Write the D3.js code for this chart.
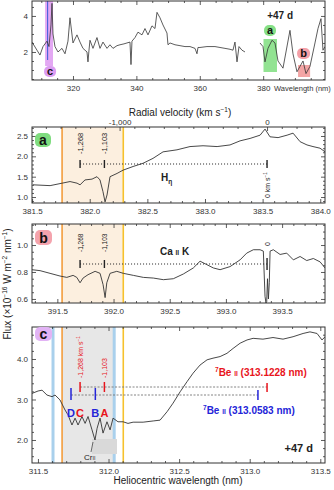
<!DOCTYPE html>
<html><head><meta charset="utf-8">
<script src="https://cdn.jsdelivr.net/npm/d3@7"></script>
<style>body{margin:0;background:#fff}svg{display:block}</style>
</head><body><svg id="chart" width="334" height="490"></svg>
<script>
const C_KMS = 299792.458;

// ---- overview spectrum (top panel) ----
const overviewWl1 = [307.07,308.64,309.59,310.54,311.80,312.43,313.06,313.38,313.69,314.32,315.27,316.53,317.48,318.42,319.05,320.00,321.26,322.21,323.15,324.42,324.73,325.05,325.36,326.31,327.57,328.52,329.46,330.73,331.67,332.62,333.88,334.83,336.09,337.03,337.98,338.30,338.61,339.56,340.50,341.77,342.71,343.66,344.92,345.87,346.50,347.44,348.39,349.65,349.97,350.60,352.18,353.75,355.33,356.91,358.49,359.12,359.43,360.06,362.27,364.79,366.37,367.95,369.53,370.47,371.10,371.74,372.37,373.31,374.26];
const overviewFlux1 = [2.55,2.1,1.83,2.3,2.6,2.3,3.5,4.7,3.0,2.3,2.0,2.2,1.9,2.6,3.9,2.5,2.95,2.55,2.2,2.0,1.45,2.1,2.65,2.2,2.8,2.2,2.55,2.2,2.4,2.2,2.35,2.4,2.45,2.5,2.55,1.3,2.6,2.8,3.1,2.95,3.3,2.95,3.45,3.3,4.2,3.9,3.5,3.05,2.4,2.5,2.4,2.35,2.3,2.3,2.2,1.9,2.25,2.25,2.3,2.3,2.25,2.2,2.15,2.1,2.55,1.45,2.3,2.1,2.0];
const overviewWl2 = [378.99,379.94,380.57,381.51,382.78,383.72,384.67,386.25,388.45,389.40,390.66,391.61,392.56,393.50,394.76,396.34,397.29,398.23,398.86,399.50];
const overviewFlux2 = [2.5,2.3,1.45,2.2,2.65,2.5,1.5,1.1,3.2,1.9,0.9,1.2,1.5,0.8,1.2,2.5,3.3,3.85,2.1,2.3];
const overviewXTicks = [320,340,360,380];
const overviewYTicks = [2,4];
const overviewHighlightA = [380.1, 384.35];
const overviewHighlightB = [391.0, 394.8];
const overviewHighlightC = [311.2, 313.7];
const epochLabel = "+47 d";

// ---- common velocity frame ----
const restHeta = 383.5384;
const restCaK = 393.366;
const restBe = [313.0583, 313.1228];
const velocityRange = [-1594, 393];
const velocityTicks = [-1000, 0];
const markerVelocities = [-1268, -1103];
const markerLabels = ["-1,268", "-1,103"];
const bandVelocities = [-1390, -975];

// ---- panel a : H eta ----
const aWl = [381.508,381.656,381.760,381.829,381.890,381.916,381.959,382.020,382.063,382.089,382.115,382.133,382.150,382.176,382.237,382.289,382.376,382.463,382.549,382.636,382.757,382.870,382.983,383.105,383.217,383.304,383.391,383.478,383.521,383.564,383.634,383.712,383.764,383.825,383.885,383.937,383.998,384.042];
const aFlux = [1.30,1.28,1.34,1.38,1.34,1.30,1.42,1.44,1.50,1.42,1.13,0.88,1.05,1.50,1.58,1.66,1.75,1.83,1.95,2.11,2.16,2.24,2.26,2.24,2.28,2.38,2.44,2.52,2.67,2.48,2.46,2.52,2.57,2.36,2.28,2.24,2.20,2.11];
const aXTicks = [381.5,382.0,382.5,383.0,383.5,384.0];
const aYTicks = [1.0,1.5,2.0,2.5];

// ---- panel b : Ca II K ----
const bWl = [391.273,391.346,391.435,391.524,391.584,391.640,391.673,391.702,391.729,391.773,391.836,391.880,391.907,391.925,391.940,391.969,392.029,392.087,392.176,392.265,392.354,392.443,392.532,392.621,392.710,392.770,392.829,392.888,392.948,393.037,393.126,393.185,393.244,393.304,393.333,393.348,393.356,393.363,393.370,393.378,393.386,393.393,393.422,393.482,393.541,393.600,393.660,393.719,393.778,393.838,393.882];
const bFlux = [0.817,0.81,0.79,0.77,0.76,0.775,0.76,0.72,0.755,0.78,0.805,0.79,0.706,0.61,0.72,0.79,0.805,0.79,0.775,0.76,0.755,0.743,0.75,0.785,0.83,0.88,0.855,0.83,0.817,0.84,0.89,0.94,0.965,0.965,0.955,0.62,0.57,0.58,0.75,0.60,0.72,0.955,0.965,0.93,0.94,0.89,0.915,0.885,0.90,0.875,0.83];
const bXTicks = [391.5,392.0,392.5,393.0,393.5];
const bYTicks = [0.6,0.8,1.0];

// ---- panel c : 7Be II ----
const cWl = [311.458,311.501,311.529,311.564,311.600,311.621,311.656,311.692,311.713,311.741,311.763,311.784,311.812,311.834,311.855,311.883,311.904,311.919,311.940,311.961,311.989,312.011,312.032,312.067,312.103,312.138,312.174,312.245,312.316,312.365,312.415,312.457,312.507,312.556,312.599,312.648,312.698,312.740,312.790,312.839,312.882,312.932,312.981,313.024,313.094,313.165,313.236,313.307,313.378,313.427,313.477,313.512,313.534];
const cFlux = [3.15,3.21,3.23,3.11,3.07,3.11,2.99,2.74,2.62,2.37,2.54,2.37,2.58,2.41,2.58,2.25,2.00,2.29,2.54,2.17,2.45,2.25,2.54,2.45,2.45,2.41,2.44,2.44,2.47,2.49,2.70,2.91,3.19,3.44,3.65,3.85,3.98,4.02,4.06,4.14,4.26,4.39,4.47,4.51,4.49,4.53,4.49,4.55,4.63,4.67,4.63,4.47,4.55];
const cXTicks = [311.5,312.0,312.5,313.0,313.5];
const cYTicks = [2.0,3.0,4.0];
const cMarkerLetters = [["D","C"],["B","A"]]; // [velocity index][blue, red]

// ================== drawing ==================
const FONT = "'Liberation Sans', Arial, Helvetica, sans-serif";
const svg = d3.select("#chart").attr("font-family", FONT);
const L = 32, R = 325;
const RED = "#e8141c", BLUE = "#2424d8", INK = "#222";
const ORANGE = "#f39c3c", GOLD = "#f6c12c", LBLUE = "#a9d0ec";

const vScale = d3.scaleLinear().domain(velocityRange).range([L, R]);
const wlFromV = (rest, v) => rest * (1 + v / C_KMS);
const wlScale = rest => d3.scaleLinear().domain(velocityRange.map(v => wlFromV(rest, v))).range([L, R]);

function minorTicks(domain, step, majors) {
  const out = [];
  const lo = Math.min(...domain), hi = Math.max(...domain);
  const s = Math.ceil(lo / step - 1e-9), e = Math.floor(hi / step + 1e-9);
  for (let i = s; i <= e; i++) {
    const v = +(i * step).toFixed(6);
    if (!majors.some(m => Math.abs(m - v) < step / 10)) out.push(v);
  }
  return out;
}

let clipId = 0;
function panel(top, bottom, x, y, o) {
  const g = svg.append("g");
  const id = "clip" + (clipId++);
  g.append("clipPath").attr("id", id).append("rect").attr("x", L).attr("y", top).attr("width", R - L).attr("height", bottom - top);
  const under = g.append("g").attr("clip-path", `url(#${id})`);
  const plot = g.append("g").attr("clip-path", `url(#${id})`);
  const axes = g.append("g");
  const ax = (axis, tr) => {
    const a = axes.append("g").attr("transform", tr).call(axis);
    a.select(".domain").remove();
    a.selectAll("line").attr("stroke", "#333").attr("stroke-width", 0.8);
    a.selectAll("text").attr("font-family", FONT).attr("font-size", 8).attr("fill", "#333");
    return a;
  };
  const xMin = minorTicks(x.domain(), o.xMinor, o.xTicks);
  const yMin = minorTicks(y.domain(), o.yMinor, o.yTicks);
  ax(d3.axisBottom(x).tickValues(o.xTicks).tickFormat(o.xFmt).tickSizeInner(-4).tickSizeOuter(0).tickPadding(5), `translate(0,${bottom})`);
  ax(d3.axisBottom(x).tickValues(xMin).tickFormat("").tickSizeInner(-2).tickSizeOuter(0), `translate(0,${bottom})`);
  if (!o.noTop) {
    ax(d3.axisTop(x).tickValues(o.xTicks).tickFormat("").tickSizeInner(-4).tickSizeOuter(0), `translate(0,${top})`);
    ax(d3.axisTop(x).tickValues(xMin).tickFormat("").tickSizeInner(-2).tickSizeOuter(0), `translate(0,${top})`);
  }
  ax(d3.axisLeft(y).tickValues(o.yTicks).tickFormat(o.yFmt).tickSizeInner(-4).tickSizeOuter(0).tickPadding(4), `translate(${L},0)`);
  ax(d3.axisLeft(y).tickValues(yMin).tickFormat("").tickSizeInner(-2).tickSizeOuter(0), `translate(${L},0)`);
  ax(d3.axisRight(y).tickValues(o.yTicks).tickFormat("").tickSizeInner(-4).tickSizeOuter(0), `translate(${R},0)`);
  ax(d3.axisRight(y).tickValues(yMin).tickFormat("").tickSizeInner(-2).tickSizeOuter(0), `translate(${R},0)`);
  axes.append("rect").attr("x", L).attr("y", top).attr("width", R - L).attr("height", bottom - top)
    .attr("fill", "none").attr("stroke", "#333").attr("stroke-width", 1);
  return { g, under, plot, axes };
}

function spectrum(layer, x, y, wl, flux, w) {
  const line = d3.line().x(d => x(d[0])).y(d => y(d[1]));
  layer.append("path").datum(wl.map((v, i) => [v, flux[i]]))
    .attr("d", line).attr("fill", "none").attr("stroke", "#333").attr("stroke-width", w || 0.9)
    .attr("stroke-linejoin", "round");
}

function rich(g, x, y, parts, o) {
  const fs = o.size || 10;
  const t = g.append("text").attr("x", x).attr("y", y).attr("font-size", fs)
    .attr("fill", o.color || INK).attr("text-anchor", o.anchor || "start");
  if (o.weight) t.attr("font-weight", o.weight);
  if (o.transform) t.attr("transform", o.transform);
  let shift = 0;
  parts.forEach(p => {
    const [s, kind] = Array.isArray(p) ? p : [p, null];
    const target = kind === "sup" ? -0.42 * fs : kind === "sub" ? 0.28 * fs : 0;
    const ts = t.append("tspan").attr("dy", target - shift).text(s);
    if (kind) ts.attr("font-size", fs * 0.65);
    shift = target;
  });
  return t;
}

function bubble(g, x0, y0, w, h, fill, letter, fs) {
  g.append("rect").attr("x", x0).attr("y", y0).attr("width", w).attr("height", h).attr("rx", 5)
    .attr("fill", fill);
  g.append("text").attr("x", x0 + w / 2).attr("y", y0 + h / 2).attr("dy", "0.36em")
    .attr("text-anchor", "middle").attr("font-weight", "bold").attr("font-size", fs || 14).attr("fill", "#111").text(letter);
}

function vText(g, x, y, str, size, color) {
  g.append("text").attr("transform", `translate(${x},${y}) rotate(-90)`)
    .attr("dominant-baseline", "central").attr("font-size", size).attr("fill", color).text(str);
}

// ---------- overview ----------
{
  const top = 1, bottom = 80;
  const x = d3.scaleLinear().domain([307.07, 399.5]).range([L, R]);
  const y = d3.scaleLinear().domain([0.444, 4.83]).range([bottom, top]);
  const p = panel(top, bottom, x, y, { xTicks: overviewXTicks, xMinor: 5, xFmt: d3.format("d"),
    yTicks: overviewYTicks, yMinor: 0.5, yFmt: d3.format("d") });
  const hl = (r, y0, y1, fill, op) => p.under.append("rect").attr("x", x(r[0])).attr("width", x(r[1]) - x(r[0]))
    .attr("y", y0).attr("height", y1 - y0).attr("fill", fill).attr("opacity", op);
  hl(overviewHighlightC, top, 66, "#d98bef", 0.75);
  p.under.append("line").attr("x1", x(312.0)).attr("x2", x(312.0)).attr("y1", top).attr("y2", 60)
    .attr("stroke", "#3a5bd9").attr("stroke-width", 1);
  hl(overviewHighlightA, 39, 72, "#86e086", 0.9);
  hl(overviewHighlightB, 65, 77, "#f29a9a", 0.9);
  spectrum(p.plot, x, y, overviewWl1, overviewFlux1, 0.8);
  spectrum(p.plot, x, y, overviewWl2, overviewFlux2, 0.8);
  bubble(p.g, x(overviewHighlightC[0]) - 1, 66, 12, 11, "#dc9cf2", "c", 11);
  bubble(p.g, x(overviewHighlightA[0]) + 0.5, 25, 12, 11, "#86e086", "a", 11);
  bubble(p.g, x(overviewHighlightB[0]) - 1, 48, 13, 11, "#f4a0a8", "b", 11);
  p.g.append("text").attr("x", 293).attr("y", 19).attr("text-anchor", "end").attr("font-weight", "bold")
    .attr("font-size", 10).attr("fill", INK).text(epochLabel);
  p.g.append("text").attr("x", 274).attr("y", 91).attr("font-size", 7.5).attr("fill", "#333").text("Wavelength (nm)");
}

// ---------- panel a ----------
{
  const top = 127, bottom = 203;
  const x = wlScale(restHeta);
  const y = d3.scaleLinear().domain([0.853, 2.721]).range([bottom, top]);
  const p = panel(top, bottom, x, y, { xTicks: aXTicks, xMinor: 0.1, xFmt: d3.format(".1f"),
    yTicks: aYTicks, yMinor: 0.1, yFmt: d3.format(".1f"), noTop: true });
  const ax = (axis) => {
    const a = p.axes.append("g").attr("transform", `translate(0,${top})`).call(axis);
    a.select(".domain").remove();
    a.selectAll("line").attr("stroke", "#333").attr("stroke-width", 0.8);
    a.selectAll("text").attr("font-size", 8).attr("fill", "#333");
  };
  ax(d3.axisTop(vScale).tickValues(velocityTicks).tickFormat(d => d3.format(",")(d).replace("\u2212", "-")).tickSizeInner(-4).tickSizeOuter(0).tickPadding(2));
  ax(d3.axisTop(vScale).tickValues(minorTicks(velocityRange, 100, velocityTicks)).tickFormat("").tickSizeInner(-2).tickSizeOuter(0));
  rich(p.g, 180, 116, ["Radial velocity (km s", ["\u22121", "sup"], ")"], { size: 10, anchor: "middle" });

  const xb0 = vScale(bandVelocities[0]), xb1 = vScale(bandVelocities[1]);
  p.under.append("rect").attr("x", xb0).attr("y", top).attr("width", xb1 - xb0).attr("height", bottom - top).attr("fill", "#fcefdf");
  p.under.append("line").attr("x1", xb0).attr("x2", xb0).attr("y1", top).attr("y2", bottom).attr("stroke", ORANGE).attr("stroke-width", 1.6);
  p.under.append("line").attr("x1", xb1).attr("x2", xb1).attr("y1", top).attr("y2", bottom).attr("stroke", GOLD).attr("stroke-width", 1.6);
  spectrum(p.plot, x, y, aWl, aFlux);

  const ym = 164;
  p.g.append("line").attr("x1", vScale(markerVelocities[0])).attr("x2", vScale(0)).attr("y1", ym).attr("y2", ym)
    .attr("stroke", INK).attr("stroke-width", 1).attr("stroke-dasharray", "1,2");
  markerVelocities.forEach((v, i) => {
    p.g.append("line").attr("x1", vScale(v)).attr("x2", vScale(v)).attr("y1", ym - 4).attr("y2", ym + 4).attr("stroke", INK).attr("stroke-width", 1.4);
    vText(p.g, vScale(v), 154, markerLabels[i], 7.5, INK);
  });
  p.g.append("line").attr("x1", vScale(0)).attr("x2", vScale(0)).attr("y1", ym - 4).attr("y2", ym + 4).attr("stroke", INK).attr("stroke-width", 1.4);
  rich(p.g, 0, 0, ["0 km s", ["\u22121", "sup"]], { size: 7, transform: `translate(${vScale(0) + 2.5},198) rotate(-90)` });
  bubble(p.g, 35, 133, 16, 14, "#7fdc7f", "a");
  rich(p.g, 161, 181, ["H", ["\u03b7", "sub"]], { size: 10, weight: "bold" });
}

// ---------- panel b ----------
{
  const top = 224, bottom = 303;
  const x = wlScale(restCaK);
  const y = d3.scaleLinear().domain([0.57, 1.156]).range([bottom, top]);
  const p = panel(top, bottom, x, y, { xTicks: bXTicks, xMinor: 0.1, xFmt: d3.format(".1f"),
    yTicks: bYTicks, yMinor: 0.05, yFmt: d3.format(".1f") });
  const xb0 = vScale(bandVelocities[0]), xb1 = vScale(bandVelocities[1]);
  p.under.append("rect").attr("x", xb0).attr("y", top).attr("width", xb1 - xb0).attr("height", bottom - top).attr("fill", "#fcefdf");
  p.under.append("line").attr("x1", xb0).attr("x2", xb0).attr("y1", top).attr("y2", bottom).attr("stroke", ORANGE).attr("stroke-width", 1.6);
  p.under.append("line").attr("x1", xb1).attr("x2", xb1).attr("y1", top).attr("y2", bottom).attr("stroke", GOLD).attr("stroke-width", 1.6);
  spectrum(p.plot, x, y, bWl, bFlux);

  const ym = 264;
  p.g.append("line").attr("x1", vScale(markerVelocities[0])).attr("x2", vScale(0)).attr("y1", ym).attr("y2", ym)
    .attr("stroke", INK).attr("stroke-width", 1).attr("stroke-dasharray", "1,2");
  markerVelocities.forEach((v, i) => {
    p.g.append("line").attr("x1", vScale(v)).attr("x2", vScale(v)).attr("y1", ym - 4).attr("y2", ym + 4).attr("stroke", INK).attr("stroke-width", 1.4);
    vText(p.g, vScale(v), 252, markerLabels[i], 6.5, INK);
  });
  p.g.append("line").attr("x1", vScale(0)).attr("x2", vScale(0)).attr("y1", ym - 6).attr("y2", ym + 6).attr("stroke", INK).attr("stroke-width", 1.4);
  vText(p.g, vScale(0), 246, "0", 7, INK);
  bubble(p.g, 35, 230, 17, 15, "#f4a3ad", "b");
  rich(p.g, 160, 255, ["Ca ", ["II", "small"], " K"], { size: 10, weight: "bold" });
  rich(svg, 0, 0, ["Flux (\u00d710", ["\u221216", "sup"], " W m", ["\u22122", "sup"], " nm", ["\u22121", "sup"], ")"],
    { size: 10, anchor: "middle", transform: "translate(11,284) rotate(-90)" });
}

// ---------- panel c ----------
{
  const top = 327, bottom = 463;
  const x = wlScale(restBe[1]);
  const y = d3.scaleLinear().domain([1.432, 4.79]).range([bottom, top]);
  const p = panel(top, bottom, x, y, { xTicks: cXTicks, xMinor: 0.1, xFmt: d3.format(".1f"),
    yTicks: cYTicks, yMinor: 0.2, yFmt: d3.format(".1f") });
  const bandX = rest => bandVelocities.map(v => x(wlFromV(rest, v)));
  const [o0, o1] = bandX(restBe[1]);
  const [b0, b1] = bandX(restBe[0]);
  p.under.append("rect").attr("x", o0).attr("y", top).attr("width", b1 - o0).attr("height", bottom - top).attr("fill", "#e7e7e7");
  [b0, b1].forEach(xx => p.under.append("line").attr("x1", xx).attr("x2", xx).attr("y1", top).attr("y2", bottom).attr("stroke", LBLUE).attr("stroke-width", 3));
  p.under.append("line").attr("x1", o0).attr("x2", o0).attr("y1", top).attr("y2", bottom).attr("stroke", ORANGE).attr("stroke-width", 1.6);
  p.under.append("line").attr("x1", o1).attr("x2", o1).attr("y1", top).attr("y2", bottom).attr("stroke", GOLD).attr("stroke-width", 1.6);
  p.under.append("rect").attr("x", 92).attr("y", 439).attr("width", 25).attr("height", 15).attr("fill", "#d9d9d9");
  spectrum(p.plot, x, y, cWl, cFlux);
  p.g.append("line").attr("x1", 93).attr("x2", 91).attr("y1", 442).attr("y2", 452).attr("stroke", "#333").attr("stroke-width", 0.7);
  rich(p.g, 84, 460, ["Cr", ["II", "small"]], { size: 8 });

  const yRed = 387, yBlue = 395;
  const xs = restBe.map(r => markerVelocities.map(v => x(wlFromV(r, v))));
  const xRest = restBe.map(r => x(r));
  p.g.append("line").attr("x1", xs[1][0]).attr("x2", xRest[1]).attr("y1", yRed).attr("y2", yRed)
    .attr("stroke", "#777").attr("stroke-width", 0.9).attr("stroke-dasharray", "2,1.5");
  p.g.append("line").attr("x1", xs[0][0]).attr("x2", xRest[0]).attr("y1", yBlue).attr("y2", yBlue)
    .attr("stroke", "#777").attr("stroke-width", 0.9).attr("stroke-dasharray", "2,1.5");
  p.g.append("line").attr("x1", xRest[1]).attr("x2", xRest[1]).attr("y1", yRed - 4).attr("y2", yRed + 5).attr("stroke", RED).attr("stroke-width", 1.5);
  p.g.append("line").attr("x1", xRest[0]).attr("x2", xRest[0]).attr("y1", yBlue - 5).attr("y2", yBlue + 5).attr("stroke", BLUE).attr("stroke-width", 1.5);
  markerVelocities.forEach((v, i) => {
    p.g.append("line").attr("x1", xs[0][i]).attr("x2", xs[0][i]).attr("y1", 388).attr("y2", 400).attr("stroke", BLUE).attr("stroke-width", 1.5);
    p.g.append("line").attr("x1", xs[1][i]).attr("x2", xs[1][i]).attr("y1", 382).attr("y2", 392).attr("stroke", RED).attr("stroke-width", 1.5);
    p.g.append("text").attr("x", xs[0][i]).attr("y", 417).attr("text-anchor", "middle").attr("font-weight", "bold")
      .attr("font-size", 11).attr("fill", BLUE).text(cMarkerLetters[i][0]);
    p.g.append("text").attr("x", xs[1][i]).attr("y", 417).attr("text-anchor", "middle").attr("font-weight", "bold")
      .attr("font-size", 11).attr("fill", RED).text(cMarkerLetters[i][1]);
  });
  rich(p.g, 0, 0, [markerLabels[0] + " km s", ["\u22121", "sup"]], { size: 7, color: RED, transform: `translate(${xs[1][0] + 2.5},378) rotate(-90)` });
  rich(p.g, 0, 0, [markerLabels[1]], { size: 7, color: RED, transform: `translate(${xs[1][1] + 2.5},378) rotate(-90)` });

  rich(p.g, 215, 376, [["7", "sup"], "Be ", ["II", "small"], " (" + restBe[1].toFixed(4) + " nm)"], { size: 10, weight: "bold", color: RED });
  rich(p.g, 203, 414, [["7", "sup"], "Be ", ["II", "small"], " (" + restBe[0].toFixed(4) + " nm)"], { size: 10, weight: "bold", color: BLUE });
  p.g.append("text").attr("x", 313).attr("y", 452).attr("text-anchor", "end").attr("font-weight", "bold")
    .attr("font-size", 11).attr("fill", INK).text(epochLabel);
  bubble(p.g, 35, 327, 17, 14, "#e2b3f5", "c");
  svg.append("text").attr("x", 178).attr("y", 484).attr("text-anchor", "middle").attr("font-size", 10)
    .attr("fill", INK).text("Heliocentric wavelength (nm)");
}
</script></body></html>
